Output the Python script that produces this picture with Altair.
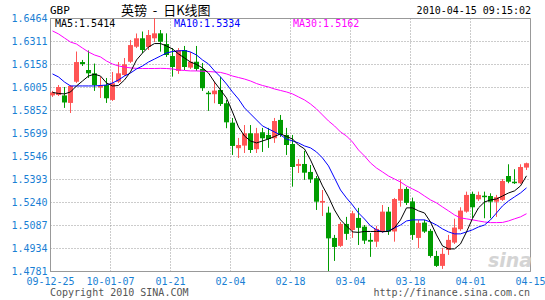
import altair as alt
import pandas as pd
import numpy as np

# ---------------- data ----------------
tick_labels = ["09-12-25", "10-01-07", "01-21", "02-04", "02-18",
               "03-04", "03-18", "04-01", "04-15"]
y_ticks = [1.4781, 1.4934, 1.5087, 1.5240, 1.5393, 1.5546,
           1.5699, 1.5852, 1.6005, 1.6158, 1.6311, 1.6464]

open_ = [1.5949, 1.5952, 1.5949, 1.5899, 1.6040, 1.6171, 1.6118, 1.6096, 1.6002, 1.6018,
         1.5919, 1.6040, 1.6085, 1.6173, 1.6273, 1.6329, 1.6271, 1.6329, 1.6362, 1.6291,
         1.6211, 1.6112, 1.6251, 1.6134, 1.6173, 1.6125, 1.5967, 1.5957, 1.5985, 1.5897,
         1.5768, 1.5598, 1.5615, 1.5697, 1.5591, 1.5704, 1.5686, 1.5664, 1.5786, 1.5686,
         1.5626, 1.5480, 1.5493, 1.5440, 1.5398, 1.5236, 1.5169, 1.5001, 1.4948, 1.5094,
         1.5054, 1.5134, 1.5076, 1.4988, 1.4976, 1.5043, 1.5176, 1.5044, 1.5249, 1.5327,
         1.5244, 1.5001, 1.5103, 1.5048, 1.4881, 1.4815, 1.4921, 1.4970, 1.5059, 1.5176,
         1.5294, 1.5258, 1.5282, 1.5280, 1.5242, 1.5254, 1.5413, 1.5375, 1.5365, 1.5469]
high = [1.5979, 1.6018, 1.6005, 1.6018, 1.6241, 1.6185, 1.6248, 1.6161, 1.6072, 1.6065,
        1.6105, 1.6171, 1.6198, 1.6318, 1.6361, 1.6374, 1.6384, 1.6464, 1.6384, 1.6362,
        1.6264, 1.6264, 1.6278, 1.6238, 1.6278, 1.6165, 1.5979, 1.6040, 1.6072, 1.5919,
        1.5799, 1.5666, 1.5752, 1.5752, 1.5733, 1.5733, 1.5733, 1.5799, 1.5819, 1.5733,
        1.5686, 1.5526, 1.5580, 1.5486, 1.5413, 1.5320, 1.5209, 1.5021, 1.5107, 1.5141,
        1.5181, 1.5201, 1.5087, 1.5034, 1.5081, 1.5220, 1.5207, 1.5267, 1.5390, 1.5340,
        1.5269, 1.5121, 1.5121, 1.5061, 1.4915, 1.4935, 1.5021, 1.5129, 1.5205, 1.5309,
        1.5309, 1.5309, 1.5309, 1.5298, 1.5287, 1.5393, 1.5491, 1.5458, 1.5491, 1.5502]
low = [1.5939, 1.5945, 1.5866, 1.5832, 1.6032, 1.6145, 1.6065, 1.5979, 1.5932, 1.5899,
       1.5912, 1.6032, 1.6078, 1.6165, 1.6264, 1.6231, 1.6251, 1.6304, 1.6240, 1.6205,
       1.6074, 1.6092, 1.6118, 1.6125, 1.6112, 1.5979, 1.5846, 1.5897, 1.5879, 1.5731,
       1.5553, 1.5533, 1.5566, 1.5566, 1.5566, 1.5573, 1.5600, 1.5633, 1.5673, 1.5553,
       1.5342, 1.5433, 1.5387, 1.5367, 1.5187, 1.5147, 1.4781, 1.4848, 1.4941, 1.4988,
       1.5001, 1.4954, 1.4961, 1.4875, 1.4941, 1.5034, 1.5021, 1.4976, 1.5209, 1.5220,
       1.4988, 1.4933, 1.5034, 1.4870, 1.4808, 1.4795, 1.4888, 1.4961, 1.5048, 1.5169,
       1.5134, 1.5247, 1.5132, 1.5132, 1.5141, 1.5247, 1.5365, 1.5360, 1.5360, 1.5453]
close = [1.5969, 1.6005, 1.5902, 1.6012, 1.6171, 1.6158, 1.6096, 1.6018, 1.6012, 1.5930,
         1.6030, 1.6096, 1.6156, 1.6284, 1.6329, 1.6251, 1.6351, 1.6362, 1.6306, 1.6218,
         1.6138, 1.6251, 1.6138, 1.6173, 1.6125, 1.5997, 1.5957, 1.5981, 1.5892, 1.5770,
         1.5613, 1.5619, 1.5697, 1.5586, 1.5697, 1.5664, 1.5659, 1.5779, 1.5686, 1.5619,
         1.5473, 1.5493, 1.5435, 1.5391, 1.5242, 1.5247, 1.4998, 1.4941, 1.5094, 1.5028,
         1.5165, 1.5068, 1.4983, 1.4976, 1.5061, 1.5176, 1.5043, 1.5260, 1.5327, 1.5234,
         1.5021, 1.5101, 1.5043, 1.4881, 1.4815, 1.4895, 1.4988, 1.5070, 1.5183, 1.5287,
         1.5205, 1.5287, 1.5272, 1.5242, 1.5272, 1.5380, 1.5375, 1.5365, 1.5473, 1.5498]

ma5 = [1.5969, 1.5962, 1.5959, 1.5972, 1.6012, 1.6045, 1.6078, 1.6090, 1.6078, 1.6032,
       1.6012, 1.6015, 1.6052, 1.6105, 1.6185, 1.6231, 1.6271, 1.6294, 1.6294, 1.6278,
       1.6258, 1.6225, 1.6198, 1.6171, 1.6155, 1.6132, 1.6098, 1.6038, 1.5985, 1.5932,
       1.5839, 1.5739, 1.5679, 1.5646, 1.5633, 1.5646, 1.5659, 1.5676, 1.5693, 1.5676,
       1.5659, 1.5619, 1.5593, 1.5520, 1.5433, 1.5347, 1.5274, 1.5187, 1.5121, 1.5081,
       1.5041, 1.5038, 1.5044, 1.5044, 1.5044, 1.5043, 1.5044, 1.5068, 1.5121, 1.5201,
       1.5201, 1.5181, 1.5167, 1.5107, 1.5021, 1.4948, 1.4928, 1.4928, 1.4961, 1.5041,
       1.5130, 1.5201, 1.5240, 1.5254, 1.5260, 1.5280, 1.5300, 1.5314, 1.5347, 1.5414]
ma10 = [1.6092, 1.6072, 1.6038, 1.6012, 1.6012, 1.6012, 1.6012, 1.6012, 1.6015, 1.6018,
        1.6032, 1.6052, 1.6078, 1.6098, 1.6125, 1.6145, 1.6171, 1.6191, 1.6211, 1.6231,
        1.6241, 1.6245, 1.6248, 1.6238, 1.6218, 1.6185, 1.6158, 1.6112, 1.6072, 1.6025,
        1.5972, 1.5925, 1.5866, 1.5826, 1.5786, 1.5746, 1.5726, 1.5706, 1.5686, 1.5659,
        1.5646, 1.5633, 1.5613, 1.5600, 1.5573, 1.5533, 1.5480, 1.5400, 1.5320, 1.5267,
        1.5220, 1.5167, 1.5127, 1.5081, 1.5055, 1.5041, 1.5048, 1.5068, 1.5087, 1.5114,
        1.5121, 1.5121, 1.5121, 1.5107, 1.5087, 1.5061, 1.5041, 1.5028, 1.5028, 1.5041,
        1.5055, 1.5074, 1.5087, 1.5121, 1.5167, 1.5214, 1.5247, 1.5274, 1.5300, 1.5334]
ma30 = [1.6378, 1.6358, 1.6331, 1.6304, 1.6291, 1.6264, 1.6238, 1.6218, 1.6205, 1.6178,
        1.6158, 1.6145, 1.6138, 1.6132, 1.6129, 1.6128, 1.6128, 1.6128, 1.6129, 1.6128,
        1.6125, 1.6118, 1.6115, 1.6112, 1.6112, 1.6110, 1.6108, 1.6105, 1.6102, 1.6092,
        1.6078, 1.6068, 1.6058, 1.6045, 1.6028, 1.6015, 1.6005, 1.5992, 1.5982, 1.5972,
        1.5959, 1.5939, 1.5919, 1.5892, 1.5859, 1.5819, 1.5779, 1.5746, 1.5706, 1.5679,
        1.5639, 1.5586, 1.5546, 1.5500, 1.5466, 1.5440, 1.5413, 1.5393, 1.5373, 1.5347,
        1.5327, 1.5307, 1.5280, 1.5254, 1.5234, 1.5207, 1.5181, 1.5154, 1.5134, 1.5128,
        1.5121, 1.5114, 1.5107, 1.5103, 1.5103, 1.5104, 1.5114, 1.5128, 1.5141, 1.5162]

symbol = "GBP"
title_text = "英镑\u00a0\u00a0-\u00a0\u00a0日K线图"
stamp = "2010-04-15 09:15:02"
ma_names = ["MA5", "MA10", "MA30"]
copyright_text = "Copyright 2010 SINA.COM"
url_text = "http://finance.sina.com.cn"

# ---------------- build table ----------------
n = len(close)
df = pd.DataFrame({"i": np.arange(n), "open": open_, "high": high, "low": low,
                   "close": close, "ma5": ma5, "ma10": ma10, "ma30": ma30})
df["x0"] = df["i"]
df["x1"] = df["i"] + 5 / 6
df["xm"] = df["i"] + 2.5 / 6
df["dir"] = np.where(df["close"] >= df["open"], "up", "down")

MONO = "DejaVu Sans Mono"
BLUE_LBL = "#1a7fd4"
RED = "#ff5555"
GREEN = "#009c00"

label_js = "[" + ",".join("'%s'" % t for t in tick_labels) + "][round(datum.value/10)]"
xscale = alt.Scale(domain=[0, 10 * (len(tick_labels) - 1)], nice=False, zero=False)
yscale = alt.Scale(domain=[y_ticks[0], y_ticks[-1]], nice=False, zero=False)
xaxis = alt.Axis(values=list(range(0, 10 * len(tick_labels), 10)), labelExpr=label_js,
                 title=None, grid=True, gridColor="#999999", gridDash=[1, 2],
                 ticks=False, domainColor="#999999", labelColor=BLUE_LBL, labelFont=MONO,
                 labelFontSize=10, labelPadding=5, labelFlush=False, labelOverlap=False)
yaxis = alt.Axis(values=y_ticks, format=".4f", title=None, grid=True, gridColor="#999999",
                 gridDash=[1, 2], ticks=False, domainColor="#999999", labelColor=BLUE_LBL,
                 labelFont=MONO, labelFontSize=10, labelPadding=3, labelFlush=False,
                 labelOverlap=False)
color = alt.Color("dir:N", scale=alt.Scale(domain=["up", "down"], range=[RED, GREEN]),
                  legend=None)

base = alt.Chart(df)
wicks = base.mark_rule(strokeWidth=1).encode(
    x=alt.X("xm:Q", scale=xscale, axis=xaxis),
    y=alt.Y("low:Q", scale=yscale, axis=yaxis),
    y2="high:Q", color=color)
bodies = base.mark_rect().encode(
    x=alt.X("x0:Q", scale=xscale, axis=xaxis), x2="x1:Q",
    y=alt.Y("open:Q", scale=yscale, axis=yaxis), y2="close:Q", color=color)

def ma_line(field, col):
    return base.mark_line(color=col, strokeWidth=1).encode(
        x=alt.X("xm:Q", scale=xscale, axis=xaxis),
        y=alt.Y(field + ":Q", scale=yscale, axis=yaxis))

lines = [ma_line("ma30", "#ff00ff"), ma_line("ma10", "#0000ff"), ma_line("ma5", "#000000")]

def txt(s, x, y, align="left", size=10, col="#000000", font=MONO, **kw):
    return alt.Chart(pd.DataFrame({"t": [s]})).mark_text(
        align=align, baseline="middle", font=font, fontSize=size, color=col, **kw
    ).encode(text="t:N", x=alt.value(x), y=alt.value(y))

texts = [
    txt(symbol, 0, -7, size=11),
    txt(title_text, 71, -7, size=13, font="Noto Sans CJK SC"),
    txt(stamp, 481, -7, align="right", size=10),
    txt("%s:%.4f" % (ma_names[0], ma5[-1]), 5, 6, col="#000000"),
    txt("%s:%.4f" % (ma_names[1], ma10[-1]), 124, 6, col="#0000ff"),
    txt("%s:%.4f" % (ma_names[2], ma30[-1]), 243, 6, col="#ff00ff"),
    txt(copyright_text, 0, 275, col="#555555"),
    txt(url_text, 480, 275, align="right", col="#555555"),
    txt("sina", 460, 243, align="center", size=19, col="#d4d4d4",
        font="DejaVu Sans", fontStyle="italic", fontWeight="bold"),
]

chart = alt.layer(wicks, bodies, *lines, *texts).properties(
    width=480, height=253,
    autosize=alt.AutoSizeParams(type="none"),
    padding={"left": 50, "top": 18, "right": 15, "bottom": 29},
    background="white",
).configure_view(stroke="#999999", strokeWidth=1)

chart.save("out.html", embed_options={"renderer": "svg", "actions": False})
